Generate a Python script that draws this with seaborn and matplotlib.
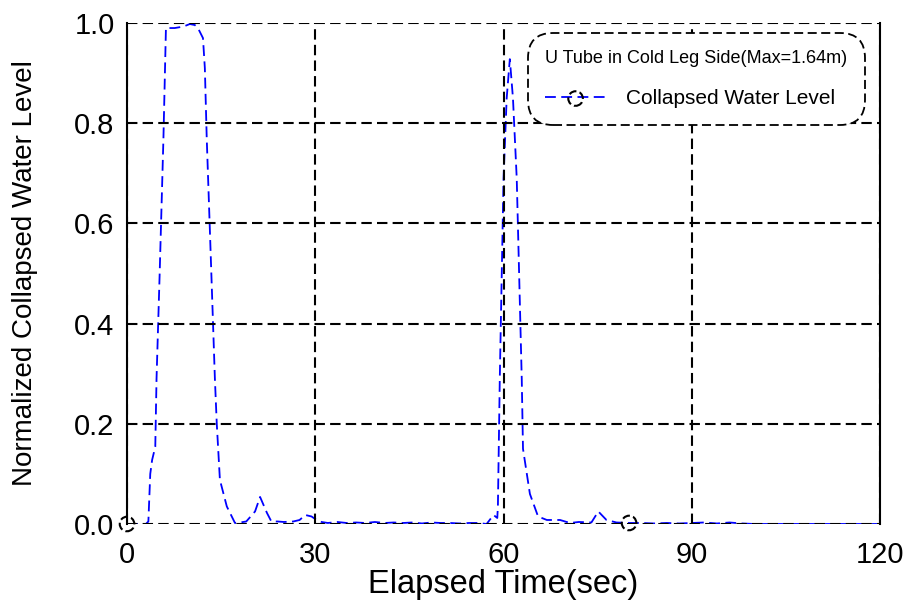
import matplotlib
matplotlib.use("Agg")
import matplotlib.pyplot as plt
from matplotlib.lines import Line2D
from matplotlib.legend_handler import HandlerTuple
import seaborn as sns
import pandas as pd

# Elapsed time (s) and normalized collapsed water level in the U tube (cold leg side)
time_sec = [0, 1, 2, 3, 3.4, 3.7, 4.0, 4.5, 4.7, 5.2, 5.8, 6.2, 7.6, 9.0, 10.0,
            10.8, 11.3, 12.1, 12.4, 12.7, 13.3, 14.0, 14.3, 14.8, 15.9, 17.2,
            18.0, 19.0, 20.4, 21.2, 22.3, 23.0, 24.0, 25.0, 26.5, 27.5, 28.4,
            29.4, 30.2, 31.0, 32.0, 33.5, 35.0, 36.5, 38.0, 39.5, 41.0, 42.5,
            44.0, 45.5, 47.0, 48.5, 50.0, 51.5, 53.0, 54.5, 56.0, 57.3, 58.4,
            59.0, 59.1, 59.4, 60.0, 60.5, 61.0, 61.5, 62.1, 62.9, 63.1, 64.2,
            65.5, 66.9, 69.0, 70.6, 72.0, 74.0, 75.1, 76.4, 78.0, 80.0, 82.0,
            84.0, 86.0, 88.0, 90.0, 92.0, 94.0, 96.0, 98.0, 100.0, 105.0,
            110.0, 115.0, 120.0]
level = [0.0, 0.0, 0.0, 0.0, 0.005, 0.1, 0.128, 0.154, 0.29, 0.5, 0.77, 0.99,
         0.99, 0.993, 0.998, 0.996, 0.99, 0.97, 0.91, 0.77, 0.55, 0.29, 0.2,
         0.088, 0.035, 0.002, 0.003, 0.005, 0.025, 0.054, 0.022, 0.005, 0.005,
         0.004, 0.005, 0.008, 0.018, 0.015, 0.008, 0.004, 0.002, 0.004, 0.002,
         0.003, 0.002, 0.004, 0.002, 0.003, 0.002, 0.003, 0.001, 0.003, 0.002,
         0.002, 0.001, 0.002, 0.002, 0.0, 0.018, 0.012, 0.035, 0.29, 0.69,
         0.85, 0.928, 0.85, 0.69, 0.29, 0.15, 0.06, 0.015, 0.008, 0.008, 0.002,
         0.004, 0.003, 0.025, 0.008, 0.003, 0.002, 0.002, 0.001, 0.002, 0.001,
         0.002, 0.003, 0.001, 0.003, 0.001, 0.0, 0.0, 0.0, 0.0, 0.0]

# Times at which the circle symbols are placed
marker_times = [0, 80]

x_ticks = [0, 30, 60, 90, 120]
y_ticks = [0.0, 0.2, 0.4, 0.6, 0.8, 1.0]

df = pd.DataFrame({"t": time_sec, "level": level})
mk = df[df["t"].isin(marker_times)]

sns.set_style("white")
plt.rcParams["font.family"] = ["Liberation Sans", "DejaVu Sans"]
plt.rcParams["text.color"] = "black"
plt.rcParams["axes.labelcolor"] = "black"

fig = plt.figure(figsize=(9.10, 6.14), dpi=100)
ax = fig.add_axes([0.1396, 0.1466, 0.8275, 0.8159])

sns.lineplot(data=df, x="t", y="level", ax=ax, color="#0000FF",
             linewidth=1.3, estimator=None, sort=False)
ax.lines[-1].set_dashes((6, 3))

sns.scatterplot(data=mk, x="t", y="level", ax=ax, s=110, marker="o",
                facecolor="none", edgecolor="black", linewidth=1.5,
                linestyle="--", zorder=5, clip_on=False)

ax.set_xlim(0, 120)
ax.set_ylim(0, 1.0)
ax.set_xticks(x_ticks)
ax.set_xticklabels([str(v) for v in x_ticks])
ax.set_yticks(y_ticks)
ax.set_yticklabels([f"{v:.1f}" for v in y_ticks])
ax.tick_params(axis="both", length=0, labelsize=21, colors="black")
ax.tick_params(axis="x", pad=12)
ax.tick_params(axis="y", pad=9)

ax.grid(True, color="black", linewidth=1.5, linestyle=(0, (5, 2.5)))
ax.set_axisbelow(False)
for side in ["top", "bottom"]:
    ax.spines[side].set_visible(False)
for side in ["left", "right"]:
    ax.spines[side].set_color("black")
    ax.spines[side].set_linewidth(1.5)

ax.set_xlabel("Elapsed Time(sec)", fontsize=23.5, labelpad=0, color="black")
ax.set_ylabel("Normalized Collapsed Water Level", fontsize=20, labelpad=26,
              color="black")

line_handle = Line2D([], [], color="#0000FF", linewidth=1.3, dashes=(6, 3))
circle_handle = ax.collections[-1]
leg = ax.legend([(line_handle, circle_handle)], ["Collapsed Water Level"],
                handler_map={tuple: HandlerTuple(ndivide=1)},
                title="U Tube in Cold Leg Side(Max=1.64m)",
                loc="upper right", bbox_to_anchor=(0.993, 1.0),
                fontsize=14, title_fontsize=13, fancybox=True,
                framealpha=1, handlelength=3.1, handletextpad=1.05,
                borderpad=0.9, labelspacing=1.1, alignment="left")
leg.get_title().set_color("black")
for txt in leg.get_texts():
    txt.set_color("black")
    txt.set_fontsize(15)
frame = leg.get_frame()
frame.set_edgecolor("black")
frame.set_linewidth(1.3)
frame.set_linestyle((0, (5, 2.5)))
frame.set_boxstyle("round,pad=0.0,rounding_size=1.3")
leg.set_zorder(10)

fig.savefig("out.png", dpi=100, facecolor="white")
